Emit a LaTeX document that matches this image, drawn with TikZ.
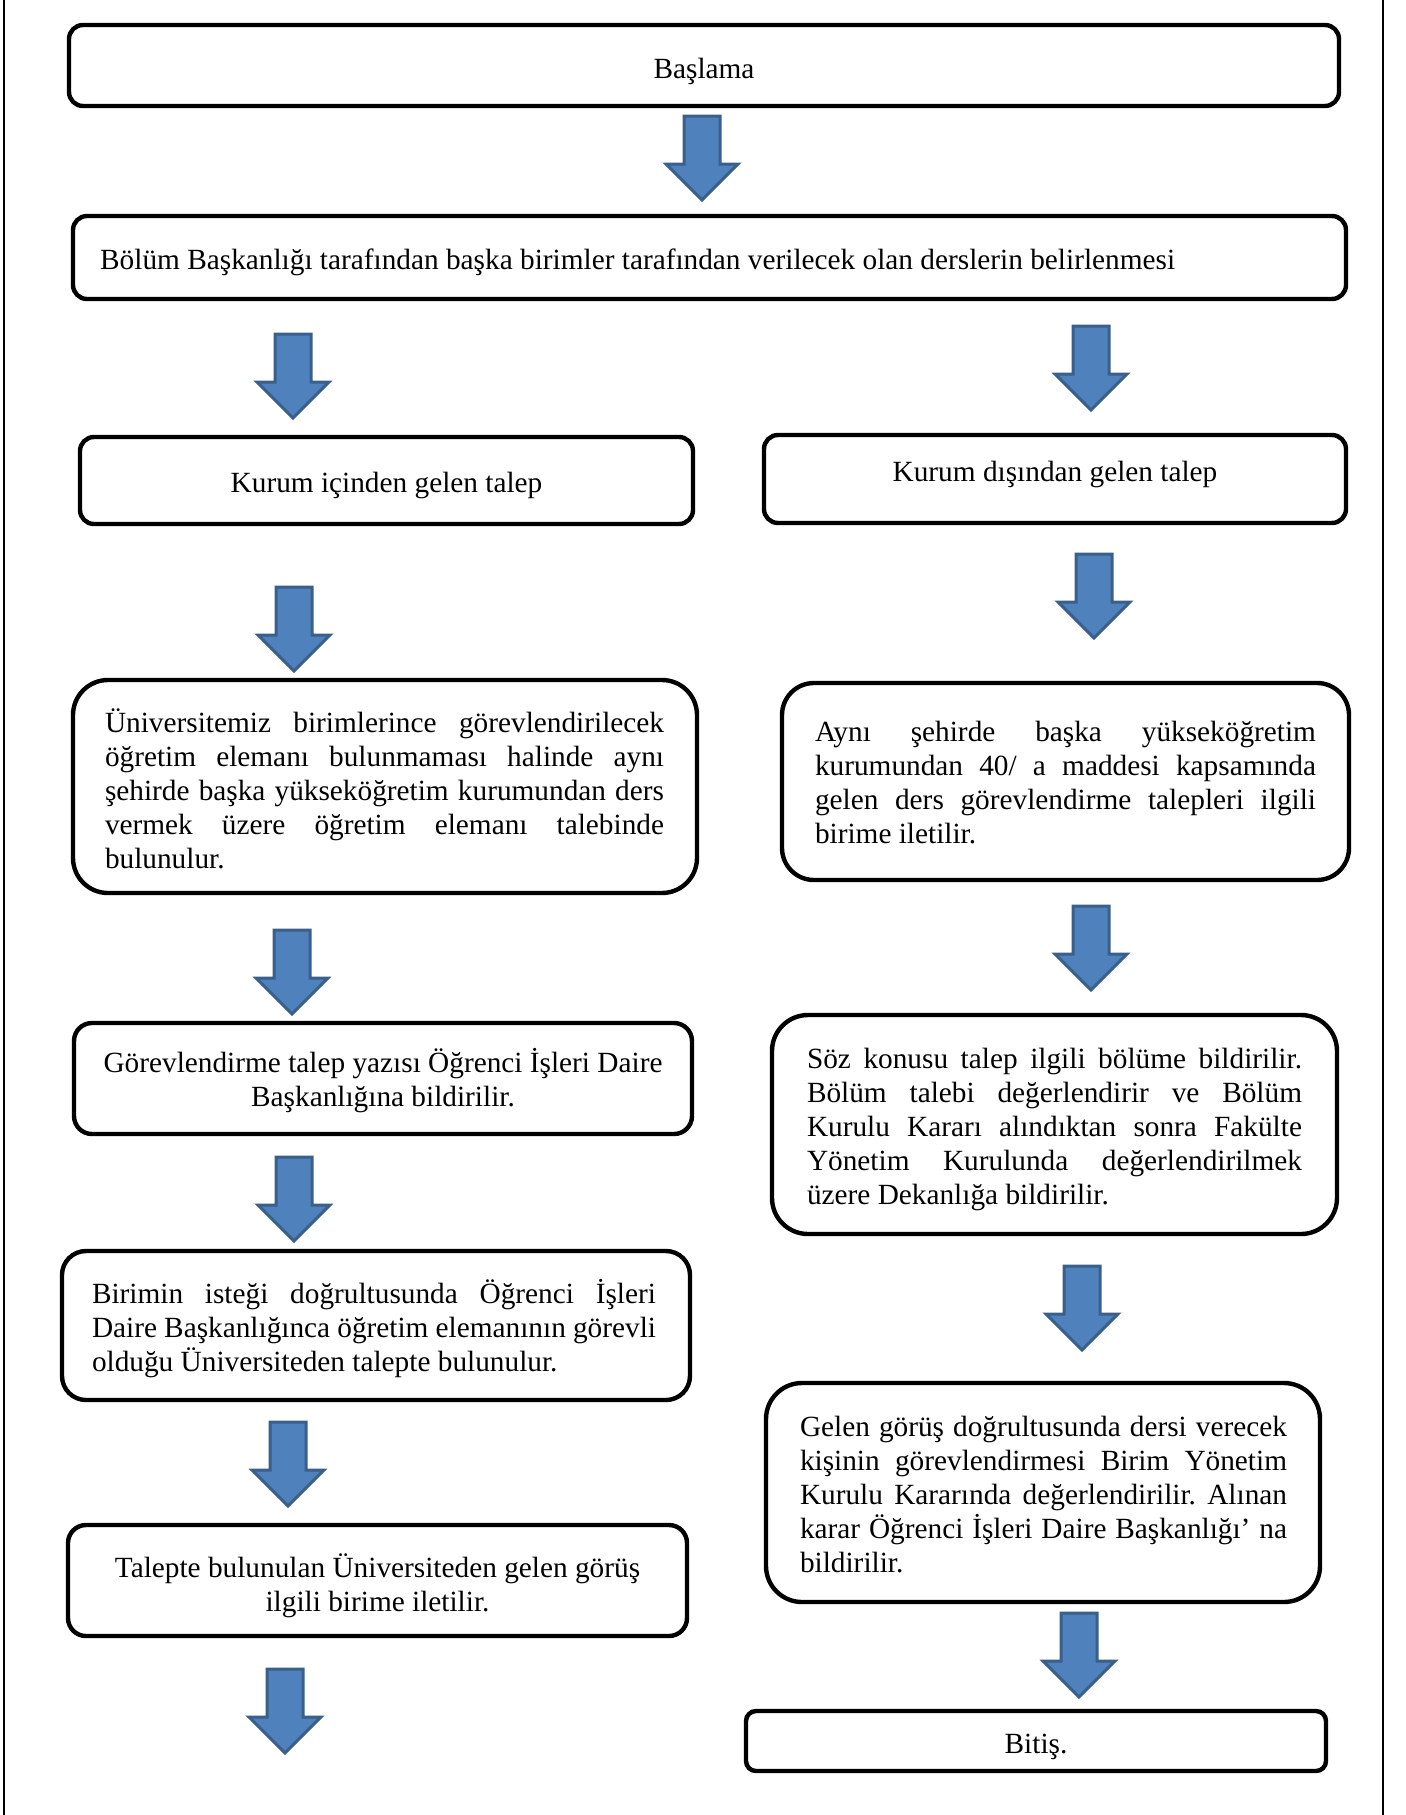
\documentclass[tikz,border=0pt]{standalone}
\usepackage{fontspec}
\setmainfont{Liberation Serif}
\usetikzlibrary{positioning}
\definecolor{okmavi}{HTML}{4F81BD}
\definecolor{okkenar}{HTML}{3A5F8B}

\begin{document}
\begin{tikzpicture}[x=0.5pt, y=-0.5pt]
    \tikzset{box/.style = {draw, line width=2.2pt, inner sep=0pt},
             yazi/.style = {inner sep=0pt, font=\fontsize{14.65pt}{17pt}\selectfont\frenchspacing},
             ortala/.style = {yazi, align=center},
             blok/.style = {yazi, align=justify},
             downarr/.pic = {\draw[fill=okmavi, draw=okkenar, line width=1.5pt, line join=miter]
                              (-18,0) -- (18,0) -- (18,48) -- (36,48) -- (0,84)
                              -- (-36,48) -- (-18,48) -- cycle;}
            }
    \useasboundingbox (0,0) rectangle (1405,1815);
    % frame
    \draw[line width=1pt] (4,0) -- (4,1815);
    \draw[line width=1pt] (1383,0) -- (1383,1815);

    % top
    \node (basla) [box, rounded corners=7pt, minimum width=635pt, minimum height=40.5pt] at (704,65.5) {};
    \node [ortala] at ([yshift=-3pt]basla.center) {Başlama};
    \node (bolum) [box, rounded corners=7pt, minimum width=636.5pt, minimum height=41.5pt] at (709.5,257.5) {};
    \node [yazi, anchor=west] at ([xshift=14.5pt, yshift=-2.3pt]bolum.west)
        {Bölüm Başkanlığı tarafından başka birimler tarafından verilecek olan derslerin belirlenmesi};

    % left column
    \node (ic) [box, rounded corners=7pt, minimum width=306.5pt, minimum height=43.5pt] at (386.5,480.5) {};
    \node [ortala] at ([yshift=-2.5pt]ic.center) {Kurum içinden gelen talep};
    \node (univ) [box, rounded corners=17.5pt, minimum width=312pt, minimum height=106.5pt] at (385,786.5) {};
    \node [blok, text width=279.5pt] at ([xshift=-0.25pt, yshift=-1.2pt]univ.center)
        {Üniversitemiz birimlerince görevlendirilecek\linebreak öğretim elemanı bulunmaması halinde aynı\linebreak
         şehirde başka yükseköğretim kurumundan ders\linebreak vermek üzere öğretim elemanı talebinde\linebreak bulunulur.};
    \node (gorev) [box, rounded corners=9pt, minimum width=309pt, minimum height=55.5pt] at (383,1078.5) {};
    \node [ortala] at ([yshift=-1.2pt]gorev.center) {Görevlendirme talep yazısı Öğrenci İşleri Daire\\Başkanlığına bildirilir.};
    \node (birim) [box, rounded corners=12pt, minimum width=314pt, minimum height=74.5pt] at (376,1325.5) {};
    \node [blok, text width=282pt] at ([xshift=-1pt, yshift=-1.7pt]birim.center)
        {Birimin isteği doğrultusunda Öğrenci İşleri\linebreak Daire Başkanlığınca öğretim elemanının görevli\linebreak
         olduğu Üniversiteden talepte bulunulur.};
    \node (talepte) [box, rounded corners=9pt, minimum width=309.5pt, minimum height=55.5pt] at (377.5,1580.5) {};
    \node [ortala] at ([yshift=-2.6pt]talepte.center) {Talepte bulunulan Üniversiteden gelen görüş\\ilgili birime iletilir.};

    % right column
    \node (dis) [box, rounded corners=7pt, minimum width=291pt, minimum height=44pt] at (1055,479) {};
    \node [ortala] at ([yshift=2.3pt]dis.center) {Kurum dışından gelen talep};
    \node (ayni) [box, rounded corners=16pt, minimum width=283.5pt, minimum height=98.5pt] at (1065.5,781.5) {};
    \node [blok, text width=250.5pt] at ([yshift=-0.5pt]ayni.center)
        {Aynı şehirde başka yükseköğretim\linebreak kurumundan 40/ a maddesi kapsamında\linebreak
         gelen ders görevlendirme talepleri ilgili\linebreak birime iletilir.};
    \node (soz) [box, rounded corners=18pt, minimum width=282.5pt, minimum height=109.5pt] at (1054.5,1124.5) {};
    \node [blok, text width=247.5pt] at ([yshift=-2.3pt]soz.center)
        {Söz konusu talep ilgili bölüme bildirilir.\linebreak Bölüm talebi değerlendirir ve Bölüm\linebreak
         Kurulu Kararı alındıktan sonra Fakülte\linebreak Yönetim Kurulunda değerlendirilmek\linebreak üzere Dekanlığa bildirilir.};
    \node (gelen) [box, rounded corners=18pt, minimum width=277pt, minimum height=109.5pt] at (1043,1492.5) {};
    \node [blok, text width=243.5pt] at ([xshift=0.25pt, yshift=-1.2pt]gelen.center)
        {Gelen görüş doğrultusunda dersi verecek\linebreak kişinin görevlendirmesi Birim Yönetim\linebreak
         Kurulu Kararında değerlendirilir. Alınan\linebreak karar Öğrenci İşleri Daire Başkanlığı’ na\linebreak bildirilir.};
    \node (bitis) [box, rounded corners=5pt, minimum width=290pt, minimum height=30pt] at (1036,1741) {};
    \node [ortala] at ([yshift=-3pt]bitis.center) {Bitiş.};

    % block arrows
    \pic (ok1) at (702,116) {downarr};
    \pic (ok2) at (293,334) {downarr};
    \pic (ok3) at (1091,326) {downarr};
    \pic (ok4) at (294,587) {downarr};
    \pic (ok5) at (1094,554) {downarr};
    \pic (ok6) at (292,930) {downarr};
    \pic (ok7) at (1091,906) {downarr};
    \pic (ok8) at (294,1157) {downarr};
    \pic (ok9) at (1082,1266) {downarr};
    \pic (ok10) at (288,1422) {downarr};
    \pic (ok11) at (1079,1613) {downarr};
    \pic (ok12) at (285,1669) {downarr};
\end{tikzpicture}
\end{document}
